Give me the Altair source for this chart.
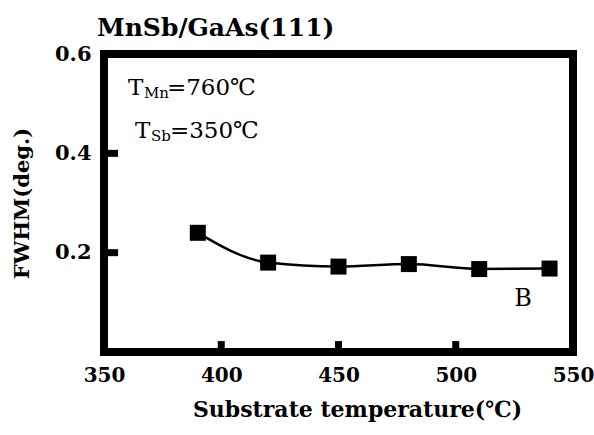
import altair as alt
import pandas as pd

# ---- data ----
temps = [390, 420, 450, 480, 510, 540]
fwhm = [0.240, 0.180, 0.172, 0.177, 0.167, 0.168]
x_tick_vals = [400, 450, 500]
y_tick_vals = [0.2, 0.4]
x_label_vals = [350, 400, 450, 500, 550]
y_label_vals = [0.2, 0.4, 0.6]
title_text = ["MnSb/GaAs(111)"]
series_label = ["B"]

FONT = "DejaVu Serif"
W, H = 469, 298

df = pd.DataFrame({"temp": temps, "fwhm": fwhm})
xs = alt.Scale(domain=[350, 550], nice=False, zero=False)
ys = alt.Scale(domain=[0, 0.6], nice=False, zero=False)
XT = "Substrate temperature(℃)"
YT = "FWHM(deg.)"

x_axis = alt.Axis(values=x_label_vals, format="d", title=XT, ticks=False, domain=False, grid=False,
                  labelFont=FONT, labelFontSize=20, labelFontWeight="bold", labelColor="black",
                  labelPadding=13, labelFlush=False, titleFont=FONT, titleFontSize=22,
                  titleFontWeight="bold", titleColor="black", titlePadding=14, titleX=253)
y_axis = alt.Axis(values=y_label_vals, format=".1f", title=YT, ticks=False, domain=False, grid=False,
                  labelFont=FONT, labelFontSize=21, labelFontWeight="bold", labelColor="black",
                  labelPadding=13, labelFlush=False, titleFont=FONT, titleFontSize=21,
                  titleFontWeight="bold", titleColor="black", titlePadding=22)

base = alt.Chart(df)
line = base.mark_line(color="black", strokeWidth=2.5, interpolate="monotone").encode(
    x=alt.X("temp:Q", scale=xs, axis=x_axis),
    y=alt.Y("fwhm:Q", scale=ys, axis=y_axis),
)
points = base.mark_point(shape="square", filled=True, color="black", size=256, opacity=1).encode(
    x=alt.X("temp:Q", scale=xs, title=XT),
    y=alt.Y("fwhm:Q", scale=ys, title=YT),
)

xticks = alt.Chart(pd.DataFrame({"t": x_tick_vals})).mark_rule(color="black", strokeWidth=7).encode(
    x=alt.X("t:Q", scale=xs, title=XT),
    y=alt.datum(0),
    y2=alt.datum(0.022),
)
yticks = alt.Chart(pd.DataFrame({"t": y_tick_vals})).mark_rule(color="black", strokeWidth=7).encode(
    y=alt.Y("t:Q", scale=ys, title=YT),
    x=alt.datum(350),
    x2=alt.datum(356),
)

title = alt.Chart(pd.DataFrame({"s": title_text})).mark_text(
    align="left", baseline="alphabetic", font=FONT, fontSize=25, fontWeight="bold", color="black",
    dx=-7, dy=-18).encode(x=alt.datum(350), y=alt.datum(0.6), text="s:N")

def txt(s, x, y, size, dx=0, dy=0, align="left", baseline="alphabetic"):
    return alt.Chart(pd.DataFrame({"s": [s]})).mark_text(
        align=align, baseline=baseline, font=FONT, fontSize=size, color="black", dx=dx, dy=dy
    ).encode(x=alt.datum(x), y=alt.datum(y), text="s:N")

ann = [
    txt("T", 360.2, 0.5175, 23),
    txt("Mn", 360.2, 0.5175, 15, dx=16, dy=3),
    txt("=760℃", 360.2, 0.5175, 23, dx=39),
    txt("T", 360.2, 0.431, 23, dx=7),
    txt("Sb", 360.2, 0.431, 15, dx=23, dy=3),
    txt("=350℃", 360.2, 0.431, 23, dx=42),
    alt.Chart(pd.DataFrame({"s": series_label})).mark_text(
        align="center", baseline="middle", font=FONT, fontSize=24, color="black"
    ).encode(x=alt.datum(528.7), y=alt.datum(0.107), text="s:N"),
]

chart = alt.layer(line, points, xticks, yticks, title, *ann).properties(
    width=W, height=H,
    autosize=alt.AutoSizeParams(type="none"),
    padding={"left": 104, "top": 54, "right": 21, "bottom": 83},
    background="white",
).configure_view(stroke="black", strokeWidth=8)

chart.save("out.html", embed_options={"renderer": "svg", "actions": False})
